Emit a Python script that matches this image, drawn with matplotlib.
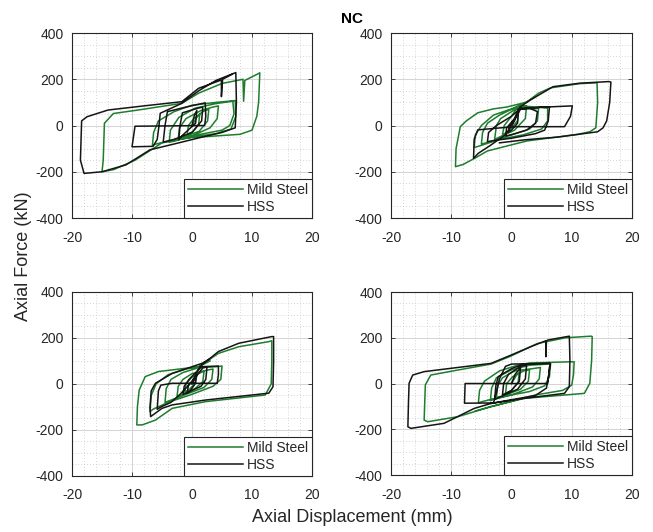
import matplotlib.pyplot as plt
from matplotlib.ticker import MultipleLocator

plt.rcParams['font.family'] = ['Liberation Sans', 'DejaVu Sans']
plt.rcParams['axes.unicode_minus'] = False

# hysteresis paths, (displacement mm, force kN)
tl_ms = [(0, 0), (0.8, 35), (1.3, 50), (1.1, 5), (0.2, -25), (-0.8, -40), (-0.6, 0), (0.3, 30),
         (1.8, 60), (2.8, 70), (2.6, 20), (1.2, -25), (-1.5, -50), (-2.3, -58), (-2.1, -10), (-1, 30),
         (1.5, 65), (3.5, 80), (4.4, 85), (4.2, 30), (3, -10), (0, -45), (-3, -68), (-3.8, -72),
         (-3.6, -20), (-2.2, 35), (0.5, 75), (4, 95), (6.8, 105), (7.0, 50), (6.3, 0), (5, -20),
         (2, -35), (-2, -55), (-6, -80), (-6.6, -86), (-6.4, -30), (-5.6, 20), (-3, 60), (0, 88),
         (4, 100), (7.2, 108), (7.3, 40), (6.5, -15), (4, -35), (0, -50), (-5, -75), (-9.5, -150),
         (-13, -190), (-15, -200), (-14.8, -150), (-14.6, 10), (-13.1, 52), (-9, 67), (-1.7, 96),
         (1.1, 140), (5, 182), (8.5, 200), (8.6, 105), (8.8, 195), (11.1, 225), (11.3, 228),
         (11.1, 100), (10.8, 40), (10, -20), (8, -38), (4, -45), (0, -52), (-3, -62)]
tl_hss = [(0, 0), (0.4, 45), (0.8, 65), (0.6, 10), (-1.5, -40), (-2.2, -60), (-2.0, 0), (-1.6, 55),
          (1.0, 75), (1.8, 80), (1.6, 20), (0, -30), (-3, -60), (-4.8, -72), (-4.5, 0), (-4.1, 60),
          (-1, 80), (2.2, 98), (2.3, 40), (2.1, 0), (-9.5, -3), (-10, -92), (-6.5, -90), (-5.8, -60),
          (-5.5, 0), (-5.3, 53), (-1.7, 96), (1.1, 150), (4, 195), (6.7, 223), (7.3, 229),
          (7.4, 100), (7.2, -10), (5, -30), (2, -48), (-3, -80), (-7, -105), (-11, -170),
          (-15, -200), (-18, -207), (-18.6, -150), (-18.4, 20), (-17.5, 38), (-14, 67), (-8, 85),
          (-1.7, 103), (1.1, 161), (4.9, 197), (4.9, 125), (5.1, 200), (6.7, 222)]

tr_ms = [(0, 0), (0.8, 50), (1.2, 75), (1.0, 20), (-0.5, -25), (-1.5, -40), (-1.2, 0), (0, 40),
         (1, 80), (2.5, 85), (2.3, 30), (0.5, -20), (-2, -50), (-2.8, -60), (-2.5, 0), (-1.8, 30),
         (0, 60), (1.2, 80), (3.5, 70), (4.5, 75), (4.3, 20), (3, -15), (0, -40), (-3.5, -70),
         (-5, -80), (-4.8, -30), (-4, 10), (-2, 45), (0, 70), (1.5, 85), (4, 80), (6, 75), (6, 20),
         (5, -15), (2, -40), (-2, -60), (-5.5, -90), (-6.2, -95), (-6, -40), (-5, 0), (-3, 45),
         (0, 72), (2.5, 101), (4.5, 140), (6.5, 163), (11.3, 181), (14.2, 185), (14.3, 100),
         (14, -10), (13, -27), (11, -38), (2.5, -67), (-4, -110), (-6, -140), (-8, -168),
         (-9.3, -178), (-9.2, -100), (-8.5, -5), (-7.5, 20), (-5.6, 55), (-3, 72), (-0.8, 80),
         (2.5, 101), (4, 125)]
tr_hss = [(0, 0), (0.8, 40), (1.2, 70), (1.0, 10), (0, -20), (-0.5, -30), (-0.3, 0), (0.6, 30),
          (1.1, 70), (3, 75), (4.3, 60), (4.0, 10), (2.5, -20), (0, -40), (-1, -45), (-0.8, -10),
          (0.5, 30), (1.5, 70), (5, 80), (6.3, 80), (6.1, 20), (5.5, -20), (4, -35), (0, -55),
          (-3, -65), (-4, -70), (-3.8, -30), (-2.5, 0), (0, 40), (1.5, 75), (10.1, 85), (9.8, 40),
          (8.8, -5), (0.5, -5), (-4, -15), (-5.6, -19), (-6.2, -60), (-6.3, -142), (-5.5, -120),
          (-3.4, -84), (-1, -40), (0.5, 20), (1.4, 80), (3.1, 110), (6.9, 168), (11.3, 183),
          (16.1, 190), (16.5, 188), (16.3, 100), (15.8, 20), (15.2, -10), (14.3, -27), (7.7, -50),
          (2.1, -62), (-2, -75)]

bl_ms = [(0, 0), (0.5, 30), (0.8, 45), (0.6, 5), (-0.5, -25), (-1.2, -35), (-1, 0), (0, 30),
         (1.5, 50), (2, 55), (1.8, 10), (0.5, -20), (-1.5, -45), (-2.5, -55), (-2.3, -10),
         (-1.5, 20), (0, 45), (2.5, 60), (3.5, 65), (3.3, 20), (2, -15), (-1, -45), (-3.5, -70),
         (-4.5, -80), (-4.3, -20), (-3.5, 20), (-1.5, 50), (1, 70), (4, 75), (5, 78), (4.8, 20),
         (3.5, -10), (0, -45), (-4, -80), (-6.5, -110), (-7, -120), (-6.8, -50), (-6, 0), (-4, 40),
         (-1, 65), (1.1, 75), (4.4, 133), (7.8, 162), (12.8, 184), (13.3, 188), (13.3, 100),
         (13.2, 0), (12.2, -48), (2.2, -77), (-3.3, -106), (-6.1, -157), (-8.3, -178),
         (-9.2, -178), (-9.1, -100), (-8.8, -26), (-7.8, 32), (-5.6, 54), (1.1, 75), (3, 100)]
bl_hss = [(0, 0), (0.5, 25), (0.8, 40), (0.5, 0), (-0.3, -30), (-0.8, -40), (-0.6, -5), (0.3, 20),
          (1.2, 50), (1.8, 70), (2.5, 75), (2.3, 20), (1.5, -10), (-0.5, -35), (-1.5, -45),
          (-1.3, -10), (-0.5, 20), (1, 60), (1.6, 75), (4.4, 78), (4.4, 40), (4.2, 3), (-3.3, 3),
          (-5.2, -5), (-5.6, -30), (-5.8, -110), (-5.2, -100), (-3.5, -80), (-2, -45), (0, 10),
          (1.3, 75), (4.4, 141), (7.8, 177), (13.3, 206), (13.6, 206), (13.6, 100), (13.5, -12),
          (12.8, -40), (2.2, -70), (-3.3, -91), (-5, -106), (-6.9, -142), (-7, -100), (-6.8, -30),
          (-6.1, 3), (-3.3, 46), (0, 75), (1.7, 90), (3, 110)]

br_ms = [(0, 0), (0.8, 35), (1.3, 50), (1.1, 5), (0, -30), (-1, -45), (-0.8, 0), (0.2, 30),
         (2, 55), (3, 60), (2.8, 10), (1.5, -25), (-1.5, -55), (-2.5, -62), (-2.3, -10), (-1.5, 25),
         (0.5, 55), (3.5, 65), (4.8, 70), (4.6, 20), (3.5, -15), (0, -50), (-3, -70), (-3.5, -75),
         (-3.3, -20), (-2.5, 25), (0, 60), (3, 80), (6, 85), (6.5, 88), (6.3, 30), (5.5, -10),
         (3, -35), (-2, -60), (-5, -80), (-5.5, -85), (-5.3, -30), (-4.5, 10), (-2, 55), (1, 80),
         (3, 90), (10, 95), (10.4, 95), (10.3, 40), (10, -7), (8.5, -30), (4, -50), (-3.4, -101),
         (-8.9, -145), (-13.9, -167), (-14.5, -160), (-14.4, -80), (-14.3, -6), (-13.4, 37),
         (-8.9, 59), (-3.4, 85), (-0.1, 120), (4.3, 175), (9, 200), (13.2, 207), (13.4, 205),
         (13.3, 100), (13, 1), (12.1, -43), (2.1, -65), (-3.4, -101), (-6, -120)]
br_hss = [(0, 0), (0.6, 40), (1.5, 70), (1.3, 10), (0, -30), (-1.5, -50), (-1.3, 0), (-0.5, 40),
          (1.5, 75), (2.5, 80), (2.3, 20), (1, -25), (-2, -60), (-2.8, -70), (-2.6, -10),
          (-2.2, 30), (0, 65), (2, 85), (6.4, 88), (6.2, 40), (6, 0), (-7.7, 0), (-7.8, -86),
          (-3, -85), (-2.5, -40), (-2, 20), (-1, 75), (0, 85), (6.4, 88), (6.2, 40), (5.8, -20),
          (4, -52), (-3.4, -87), (-6.2, -109), (-11.2, -174), (-16.7, -196), (-17.2, -189),
          (-17.1, -80), (-17, 1), (-16.4, 37), (-14.5, 52), (-3.4, 88), (-0.1, 124), (3.2, 161),
          (5.7, 187), (5.7, 117), (5.8, 185), (6, 190), (9.6, 207), (9.7, 100), (9.6, -14),
          (8.8, -43), (2.1, -65), (-3.4, -87)]

panels = [(tl_ms, tl_hss), (tr_ms, tr_hss), (bl_ms, bl_hss), (br_ms, br_hss)]
x_ticks = [-20, -10, 0, 10, 20]
y_ticks = [-400, -200, 0, 200, 400]
labels = ['Mild Steel', 'HSS']

green = '#1e7d2c'
black = '#151515'
txt = '#262626'

fig = plt.figure(figsize=(6.53, 5.32), dpi=100)
boxes = [[0.1103, 0.5902, 0.3675, 0.3477], [0.5988, 0.5902, 0.369, 0.3477],
         [0.1103, 0.1053, 0.3675, 0.3459], [0.5988, 0.1071, 0.369, 0.344]]

for box, (ms, hss) in zip(boxes, panels):
    ax = fig.add_axes(box)
    ax.plot([p[0] for p in ms], [p[1] for p in ms], color=green, lw=1.1, label=labels[0])
    ax.plot([p[0] for p in hss], [p[1] for p in hss], color=black, lw=1.1, label=labels[1])
    ax.set_xlim(-20, 20)
    ax.set_ylim(-400, 400)
    ax.set_xticks(x_ticks)
    ax.set_yticks(y_ticks)
    ax.xaxis.set_minor_locator(MultipleLocator(2))
    ax.yaxis.set_minor_locator(MultipleLocator(50))
    ax.grid(which='major', color='#d4d4d4', lw=0.7, ls='-')
    ax.grid(which='minor', color='#c8c8c8', lw=0.6, ls=(0, (1, 2.5)))
    ax.set_axisbelow(True)
    ax.tick_params(which='major', direction='in', length=3, width=0.6, top=True, right=True,
                   labelsize=10, labelcolor=txt, color=txt)
    ax.tick_params(which='minor', length=0)
    ax.tick_params(axis='x', pad=9)
    ax.tick_params(axis='y', pad=6)
    for s in ax.spines.values():
        s.set_color('#262626')
        s.set_linewidth(0.8)
    leg = ax.legend(loc='lower right', borderaxespad=0, fontsize=10, handlelength=3.9,
                    handletextpad=0.3, borderpad=0.3, labelspacing=0.2, fancybox=False,
                    framealpha=1, edgecolor='#262626')
    leg.get_frame().set_linewidth(0.8)
    for t in leg.get_texts():
        t.set_color(txt)

fig.text(0.539, 0.964, 'NC', ha='center', va='center', fontsize=11, fontweight='bold')
fig.text(0.539, 0.027, 'Axial Displacement (mm)', ha='center', va='center', fontsize=13, color=txt)
fig.text(0.036, 0.519, 'Axial Force (kN)', ha='center', va='center', rotation=90, fontsize=13,
         color=txt)

fig.savefig('out.png', dpi=100)
